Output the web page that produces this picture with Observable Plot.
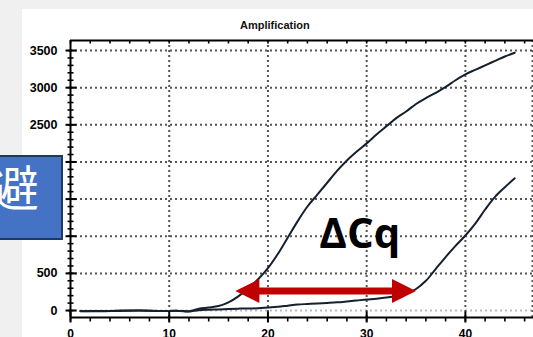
<!DOCTYPE html>
<html>
<head>
<meta charset="utf-8">
<script src="https://cdn.jsdelivr.net/npm/d3@7"></script>
<script src="https://cdn.jsdelivr.net/npm/@observablehq/plot@0.6"></script>
<style>
  html, body { margin: 0; padding: 0; }
  body { width: 533px; height: 337px; background: #f0f0f0; position: relative; overflow: hidden; }
  #chart { position: absolute; left: 22px; top: 9px; }
  #title { position: absolute; left: 240px; top: 19px; font: bold 11px "Liberation Sans", Arial, sans-serif; color: #111; }
  #box { position: absolute; left: -40px; top: 155px; width: 99px; height: 81px; background: #4472c4; border: 2px solid #1f3864; overflow: hidden; }
  #box span { position: absolute; right: 22px; top: 4px; font: 48px/1 "Noto Sans CJK JP", "Noto Sans CJK SC", sans-serif; color: #fff; }
</style>
</head>
<body>
<div id="chart"></div>
<div id="title">Amplification</div>
<div id="box"><span>避</span></div>
<script>
// cycles
const cycles = [1, 3, 5, 7, 9, 11, 12, 13, 14, 15, 16, 17, 18, 19, 20, 21, 22, 23, 24, 25, 26, 27, 28, 29, 30, 31, 32, 33, 34, 35, 36, 37, 38, 39, 40, 41, 42, 43, 44, 45];
// early sample fluorescence
const sampleA = [-5, -10, 0, 0, -8, -5, -12, 25, 40, 60, 110, 190, 300, 420, 570, 760, 980, 1200, 1400, 1560, 1720, 1880, 2020, 2140, 2250, 2370, 2480, 2590, 2680, 2780, 2860, 2930, 3010, 3100, 3180, 3240, 3300, 3360, 3420, 3470];
// late sample fluorescence
const sampleB = [-10, -5, -5, 0, -5, -5, -10, 5, 10, 15, 20, 25, 28, 30, 40, 50, 65, 80, 88, 95, 102, 110, 122, 135, 148, 160, 175, 195, 225, 290, 400, 560, 720, 870, 1010, 1170, 1360, 1530, 1660, 1780];

const xDomain = [0, 46.9];
const yDomain = [-94, 3635];
const xMajor = [0, 10, 20, 30, 40];
const xMinor = d3.range(0, 47, 2);
const yMajor = [0, 500, 1000, 1500, 2000, 2500, 3000, 3500];
const yMinor = d3.range(0, 3600, 100);
const xGrid = [10, 20, 30, 40];
const yGrid = [500, 1000, 1500, 2000, 2500, 3000, 3500];

// ΔCq annotation
const arrowFrom = [16.7];
const arrowTo = [35.0];
const arrowLevel = [263];
const labelText = ["ΔCq"];
const labelX = [25.2];
const labelY = [848];

const seriesA = cycles.map((c, i) => ({cycle: c, rfu: sampleA[i]}));
const seriesB = cycles.map((c, i) => ({cycle: c, rfu: sampleB[i]}));

const dotted = {stroke: "#555", strokeWidth: 2, strokeDasharray: "2,3"};
const red = "#c00000";

// custom symbols (pixel-sized marks)
const seg = (x0, y0, x1, y1) => ({draw(ctx) { ctx.moveTo(x0, y0); ctx.lineTo(x1, y1); }});
const headLeft = {draw(ctx) { ctx.moveTo(0, 0); ctx.lineTo(24, -12); ctx.lineTo(24, 12); ctx.closePath(); }};
const headRight = {draw(ctx) { ctx.moveTo(0, 0); ctx.lineTo(-24, -12); ctx.lineTo(-24, 12); ctx.closePath(); }};

const chart = Plot.plot({
  width: 511,
  height: 328,
  marginLeft: 48,
  marginRight: 0,
  marginTop: 31,
  marginBottom: 20,
  x: {domain: xDomain, axis: null},
  y: {domain: yDomain, axis: null},
  style: {background: "white", overflow: "visible", fontFamily: "'Liberation Sans', Arial, sans-serif"},
  marks: [
    Plot.ruleY(yGrid, dotted),
    Plot.ruleY([0], {...dotted, stroke: "#bbb"}),
    Plot.ruleX(xGrid, dotted),
    Plot.ruleX([xDomain[1]], {...dotted, dx: -1}),
    Plot.line(seriesA, {x: "cycle", y: "rfu", stroke: "#14202e", strokeWidth: 2, curve: "catmull-rom"}),
    Plot.line(seriesB, {x: "cycle", y: "rfu", stroke: "#14202e", strokeWidth: 2, curve: "catmull-rom"}),
    // axis lines
    Plot.ruleY([yDomain[1]], {stroke: "#000", strokeWidth: 2}),
    Plot.ruleY([yDomain[0]], {stroke: "#000", strokeWidth: 2}),
    Plot.ruleX([xDomain[0]], {stroke: "#000", strokeWidth: 2}),
    // x ticks
    Plot.dot(xMinor, {x: (d) => d, y: () => yDomain[0], symbol: seg(0, 0, 0, 4), stroke: "#000", strokeWidth: 1.6, fill: "none"}),
    Plot.dot(xMajor, {x: (d) => d, y: () => yDomain[0], symbol: seg(0, -6, 0, 5), stroke: "#000", strokeWidth: 2, fill: "none"}),
    Plot.dot(xMinor, {x: (d) => d, y: () => yDomain[1], symbol: seg(0, 0, 0, 3), stroke: "#000", strokeWidth: 1.6, fill: "none"}),
    Plot.text(xMajor, {x: (d) => d, y: () => yDomain[0], text: (d) => String(d), dy: 12, lineAnchor: "top", fontWeight: "bold", fontSize: 12, fill: "#000"}),
    // y ticks
    Plot.dot(yMinor, {x: () => xDomain[0], y: (d) => d, symbol: seg(-3, 0, 3, 0), stroke: "#000", strokeWidth: 1.6, fill: "none"}),
    Plot.dot(yMajor, {x: () => xDomain[0], y: (d) => d, symbol: seg(-5, 0, 6, 0), stroke: "#000", strokeWidth: 2, fill: "none"}),
    Plot.text(yMajor, {x: () => xDomain[0], y: (d) => d, text: (d) => String(d), dx: -13, textAnchor: "end", fontWeight: "bold", fontSize: 12.5, fill: "#000"}),
    // ΔCq arrow
    Plot.link(arrowFrom, {x1: (d) => d + 1.0, x2: (d, i) => arrowTo[i] - 1.0, y1: (d, i) => arrowLevel[i], y2: (d, i) => arrowLevel[i], stroke: red, strokeWidth: 7}),
    Plot.dot(arrowFrom, {x: (d) => d, y: (d, i) => arrowLevel[i], symbol: headLeft, fill: red, stroke: "none"}),
    Plot.dot(arrowTo, {x: (d) => d, y: (d, i) => arrowLevel[i], symbol: headRight, fill: red, stroke: "none"}),
    Plot.text(labelText, {x: (d, i) => labelX[i], y: (d, i) => labelY[i], text: (d) => d, textAnchor: "start", lineAnchor: "bottom", fontSize: 42, fontWeight: "bold", fontFamily: "'Open Sans', sans-serif", fill: "#000"})
  ]
});
document.getElementById("chart").appendChild(chart);
</script>
</body>
</html>
